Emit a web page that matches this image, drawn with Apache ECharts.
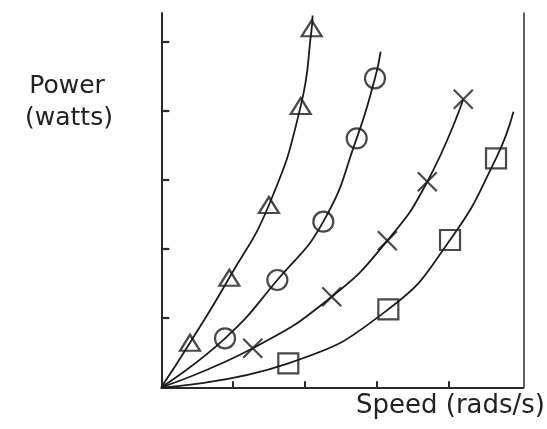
<!DOCTYPE html>
<html>
<head>
<meta charset="utf-8">
<script src="https://cdn.jsdelivr.net/npm/echarts@6/dist/echarts.min.js"></script>
<style>html,body{margin:0;padding:0;background:#fff}#c{width:547px;height:429px}</style>
</head>
<body>
<div id="c"></div>
<script>
// Axis labels
const yAxisTitle = ['Power', '(watts)'];
const xAxisTitle = 'Speed (rads/s)';
const xTicks = [1, 2, 3, 4];
const yTicks = [1, 2, 3, 4, 5];

// Measured points (speed, power) in axis-tick units
const triangleMarks = [[0.40, 0.645], [0.948, 1.586], [1.50, 2.638], [1.943, 4.071], [2.096, 5.195]];
const circleMarks   = [[0.888, 0.709], [1.617, 1.553], [2.258, 2.397], [2.723, 3.603], [2.978, 4.472]];
const crossMarks    = [[1.274, 0.564], [2.375, 1.311], [3.15, 2.122], [3.707, 2.975], [4.209, 4.168]];
const squareMarks   = [[1.77, 0.347], [3.164, 1.129], [4.024, 2.132], [4.665, 3.314]];

// Fitted curves (start at origin)
const triangleCurve = [[0, 0], [0.40, 0.645], [0.948, 1.586], [1.50, 2.638], [1.943, 4.071], [2.096, 5.195], [2.108, 5.38]];
const circleCurve   = [[0, 0], [0.888, 0.709], [1.617, 1.553], [2.258, 2.397], [2.723, 3.603], [2.978, 4.472], [3.057, 4.857]];
const crossCurve    = [[0, 0], [1.274, 0.564], [2.375, 1.311], [3.15, 2.122], [3.707, 2.975], [4.209, 4.168]];
const squareCurve   = [[0, 0], [1.77, 0.347], [3.164, 1.129], [4.024, 2.132], [4.665, 3.314], [4.908, 3.988]];

const INK = '#1c1c1c';
const chart = echarts.init(document.getElementById('c'), null, {renderer: 'canvas'});

function curve(data) {
  return {
    type: 'line', data: data, showSymbol: false, symbol: 'none',
    smooth: 0.5,
    lineStyle: {color: INK, width: 1.8}, silent: true, z: 2
  };
}
function marks(data, symbol, size) {
  return {
    type: 'scatter', data: data, symbol: symbol, symbolSize: size,
    itemStyle: {color: 'rgba(255,255,255,0)', borderColor: INK, borderWidth: 2.2},
    silent: true, z: 3
  };
}

chart.setOption({
  backgroundColor: '#fff',
  animation: false,
  grid: {left: 161.3, right: 23.7, top: 13, bottom: 41.7, containLabel: false},
  xAxis: {
    type: 'value', min: 0, max: 5.045,
    axisLine: {show: true, lineStyle: {color: '#2a2a2a', width: 2}},
    axisTick: {show: true, inside: true, length: 6, customValues: xTicks, lineStyle: {color: '#2a2a2a', width: 2}},
    axisLabel: {show: false},
    splitLine: {show: false}
  },
  yAxis: [{
    type: 'value', min: 0, max: 5.417, position: 'left',
    axisLine: {show: true, lineStyle: {color: '#2a2a2a', width: 2}},
    axisTick: {show: true, inside: true, length: 8, customValues: yTicks, lineStyle: {color: '#2a2a2a', width: 2.2}},
    axisLabel: {show: false},
    splitLine: {show: false}
  }, {
    type: 'value', min: 0, max: 5.417, position: 'right',
    axisLine: {show: true, onZero: false, lineStyle: {color: '#3a3a3a', width: 1.6}},
    axisTick: {show: false},
    axisLabel: {show: false},
    splitLine: {show: false}
  }],
  graphic: [
    {type: 'text', x: 67, y: 74, style: {text: yAxisTitle[0], font: '25px "DejaVu Sans"', fill: '#222', align: 'center', verticalAlign: 'top'}},
    {type: 'text', x: 69, y: 106, style: {text: yAxisTitle[1], font: '25px "DejaVu Sans"', fill: '#222', align: 'center', verticalAlign: 'top'}},
    {type: 'text', x: 545, y: 393, style: {text: xAxisTitle, font: '26px "DejaVu Sans"', fill: '#222', align: 'right', verticalAlign: 'top'}}
  ],
  series: [
    curve(triangleCurve), marks(triangleMarks, 'triangle', [20, 16]),
    curve(circleCurve), marks(circleMarks, 'circle', 20),
    curve(crossCurve), marks(crossMarks, 'path://M0,0L20,20M20,0L0,20', 19),
    curve(squareCurve), marks(squareMarks, 'rect', 20)
  ]
});
</script>
</body>
</html>
